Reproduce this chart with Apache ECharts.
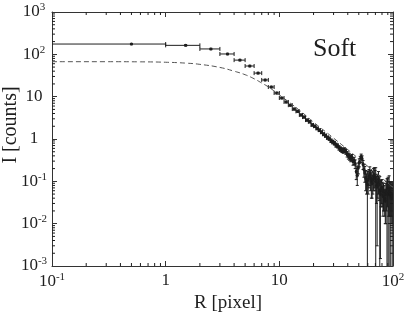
<!DOCTYPE html>
<html>
<head>
<meta charset="utf-8">
<script src="https://cdn.jsdelivr.net/npm/echarts@6/dist/echarts.min.js"></script>
<style>
  html, body { margin: 0; background: #fff; }
  #chart { width: 414px; height: 321px; }
</style>
</head>
<body>
<div id="chart"></div>
<script>
// radial profile, unit-width bins (pixel)
const RADIUS = [
  0.5, 1.5, 2.5, 3.5, 4.5, 5.5, 6.5, 7.5, 8.5, 9.5,
  10.5, 11.5, 12.5, 13.5, 14.5, 15.5, 16.5, 17.5, 18.5, 19.5,
  20.5, 21.5, 22.5, 23.5, 24.5, 25.5, 26.5, 27.5, 28.5, 29.5,
  30.5, 31.5, 32.5, 33.5, 34.5, 35.5, 36.5, 37.5, 38.5, 39.5,
  40.5, 41.5, 42.5, 43.5, 44.5, 45.5, 46.5, 47.5, 48.5, 49.5,
  50.5, 51.5, 52.5, 53.5, 54.5, 55.5, 56.5, 57.5, 58.5, 59.5,
  60.5, 61.5, 62.5, 63.5, 64.5, 65.5, 66.5, 67.5, 68.5, 69.5,
  70.5, 71.5, 72.5, 73.5, 74.5, 75.5, 76.5, 77.5, 78.5, 79.5,
  80.5, 81.5, 82.5, 83.5, 84.5, 85.5, 86.5, 87.5, 88.5, 89.5,
  90.5, 91.5, 92.5, 93.5, 94.5, 95.5, 96.5, 97.5, 98.5, 99.5
]
const COUNTS = [
  175, 163, 134, 102, 73, 53, 36, 24.8, 16.9, 12.2,
  9.3, 7.5, 6.3, 5.1, 4.5, 3.7, 3.3, 2.8, 2.55, 2.15,
  2.0, 1.78, 1.62, 1.45, 1.3, 1.2, 1.08, 1.02, 0.91, 0.85,
  0.80, 0.72, 0.69, 0.62, 0.58, 0.55, 0.53, 0.55, 0.50, 0.44,
  0.40, 0.38, 0.35, 0.37, 0.30, 0.31, 0.26, 0.17, 0.14, 0.21,
  0.28, 0.33, 0.38, 0.34, 0.25, 0.19, 0.16, 0.12, 0.10, 0.085,
  0.11, 0.13, 0.15, 0.12, 0.10, 0.09, 0.11, 0.13, 0.14, 0.12,
  0.10, 0.08, 0.075, 0.09, 0.11, 0.085, 0.06, 0.05, 0.065, 0.07,
  0.06, 0.045, 0.055, 0.05, 0.04, 0.035, 0.05, 0.06, 0.055, 0.07,
  0.06, 0.05, 0.065, 0.055, 0.05, 0.045, 0.04, 0.05, 0.045, 0.04
]
const ERRORS = [
  6, 6, 5, 4, 3, 2.2, 1.6, 1.1, 0.8, 0.6,
  0.45, 0.38, 0.33, 0.28, 0.25, 0.21, 0.19, 0.17, 0.16, 0.14,
  0.13, 0.12, 0.115, 0.11, 0.1, 0.1, 0.095, 0.09, 0.085, 0.085,
  0.08, 0.08, 0.075, 0.075, 0.07, 0.07, 0.07, 0.07, 0.065, 0.065,
  0.065, 0.065, 0.06, 0.06, 0.06, 0.06, 0.06, 0.06, 0.06, 0.06,
  0.06, 0.06, 0.06, 0.06, 0.06, 0.065, 0.065, 0.06, 0.05, 0.09,
  0.06, 0.06, 0.07, 0.06, 0.06, 0.05, 0.06, 0.07, 0.07, 0.06,
  0.11, 0.05, 0.072, 0.05, 0.06, 0.05, 0.07, 0.0485, 0.04, 0.04,
  0.035, 0.03, 0.035, 0.03, 0.025, 0.025, 0.04, 0.04, 0.06, 0.045,
  0.065, 0.035, 0.07, 0.04, 0.035, 0.05, 0.03, 0.035, 0.05, 0.03
]
// dashed model curve
const MODEL_R = [0.1, 0.3, 0.6, 1, 1.5, 2, 3, 4, 5, 6, 7, 8, 10, 15, 20, 30, 40, 50, 70, 100]
const MODEL_I = [67, 67, 66.5, 65, 62, 58, 49, 40, 33, 26.5, 21, 17, 11, 4.8, 2.5, 1.05, 0.56, 0.34, 0.16, 0.072]

const X_MIN = 0.1, X_MAX = 100
const Y_MIN = 0.001, Y_MAX = 1000
const MINOR_STEPS = [2, 3, 4, 5, 6, 7, 8, 9]
const X_DECADES = [0.1, 1, 10]
const Y_DECADES = [0.001, 0.01, 0.1, 1, 10, 100]

const INK = '#1e1e1e'
const FONT = 'Liberation Serif'

function powLabel(v) {
  const e = Math.round(Math.log10(v))
  if (e === 0) return '{b|1}'
  if (e === 1) return '{b|10}'
  return '{b|10}{s|' + e + '}'
}
const LABEL_RICH = {
  b: { fontSize: 17, fontFamily: FONT, color: INK },
  s: { fontSize: 11, fontFamily: FONT, color: INK, padding: [0, 0, 9, 0] }
}
const AXIS_LINE = { show: true, lineStyle: { color: '#333', width: 1 } }
const TICK = { show: true, inside: true, length: 5, lineStyle: { color: '#333' } }

function logAxis(min, max, split, position, showLabel) {
  return {
    type: 'log', logBase: 10, min, max, splitNumber: split, position,
    axisLine: AXIS_LINE, axisTick: TICK, splitLine: { show: false },
    axisLabel: showLabel
      ? { formatter: powLabel, rich: LABEL_RICH, margin: position === 'left' ? 18 : 6, align: 'center' }
      : { show: false }
  }
}

const chart = echarts.init(document.getElementById('chart'))

const points = RADIUS.map((r, i) => [r, COUNTS[i], ERRORS[i]])
const minorX = X_DECADES.flatMap(d => MINOR_STEPS.map(m => [m * d, 1]))
const minorY = Y_DECADES.flatMap(d => MINOR_STEPS.map(m => [1, m * d]))
const line = (x1, y1, x2, y2) => ({
  type: 'line', shape: { x1, y1, x2, y2 }, style: { stroke: INK, lineWidth: 1 }
})

function renderPoint(params, api) {
  const r = api.value(0), v = api.value(1), e = api.value(2)
  const xl = Math.max(r - 0.5, X_MIN)
  const pl = api.coord([xl, v]), pr = api.coord([r + 0.5, v])
  const p = api.coord([r, v])
  const lo = v - e
  const pLo = api.coord([r, lo > Y_MIN ? lo : Y_MIN])
  const pHi = api.coord([r, v + e])
  const kids = [
    line(pl[0], p[1], pr[0], p[1]),
    line(pr[0], p[1] - 2, pr[0], p[1] + 2),
    line(p[0], pLo[1], p[0], pHi[1]),
    line(p[0] - 1.5, pHi[1], p[0] + 1.5, pHi[1]),
    { type: 'circle', shape: { cx: p[0], cy: p[1], r: 1.5 }, style: { fill: INK } }
  ]
  if (r - 0.5 > X_MIN) kids.push(line(pl[0], p[1] - 2, pl[0], p[1] + 2))
  if (lo > Y_MIN) kids.push(line(p[0] - 1.5, pLo[1], p[0] + 1.5, pLo[1]))
  return { type: 'group', children: kids }
}

function renderMinorX(params, api) {
  const x = api.coord([api.value(0), 1])[0]
  const cs = params.coordSys
  return { type: 'group', children: [
    line(x, cs.y + cs.height, x, cs.y + cs.height - 3),
    line(x, cs.y, x, cs.y + 3)
  ] }
}
function renderMinorY(params, api) {
  const y = api.coord([1, api.value(1)])[1]
  const cs = params.coordSys
  return { type: 'group', children: [
    line(cs.x, y, cs.x + 3, y),
    line(cs.x + cs.width, y, cs.x + cs.width - 3, y)
  ] }
}

chart.setOption({
  animation: false,
  backgroundColor: '#fff',
  grid: { left: 52, right: 21, top: 12, bottom: 55 },
  xAxis: [logAxis(X_MIN, X_MAX, 3, 'bottom', true), logAxis(X_MIN, X_MAX, 3, 'top', false)],
  yAxis: [logAxis(Y_MIN, Y_MAX, 6, 'left', true), logAxis(Y_MIN, Y_MAX, 6, 'right', false)],
  graphic: [
    { type: 'text', x: 313, y: 49, style: { text: 'Soft', font: '26px "Liberation Serif"', fill: INK, textVerticalAlign: 'middle' } },
    { type: 'text', x: 228, y: 303, style: { text: 'R [pixel]', font: '19px "Liberation Serif"', fill: INK, textAlign: 'center', textVerticalAlign: 'middle' } },
    { type: 'text', x: 11, y: 125, rotation: Math.PI / 2, style: { text: 'I [counts]', font: '20px "Liberation Serif"', fill: INK, textAlign: 'center', textVerticalAlign: 'middle' } }
  ],
  series: [
    {
      type: 'line', smooth: true, showSymbol: false, silent: true,
      data: MODEL_R.map((r, i) => [r, MODEL_I[i]]),
      lineStyle: { color: '#555', width: 1, type: [5, 3] }
    },
    { type: 'custom', renderItem: renderPoint, data: points, clip: true, silent: true, encode: { x: 0, y: 1 } },
    { type: 'custom', renderItem: renderMinorX, data: minorX, silent: true, encode: { x: 0, y: 1 } },
    { type: 'custom', renderItem: renderMinorY, data: minorY, silent: true, encode: { x: 0, y: 1 } }
  ]
})
window.addEventListener('resize', () => chart.resize())
</script>
</body>
</html>
